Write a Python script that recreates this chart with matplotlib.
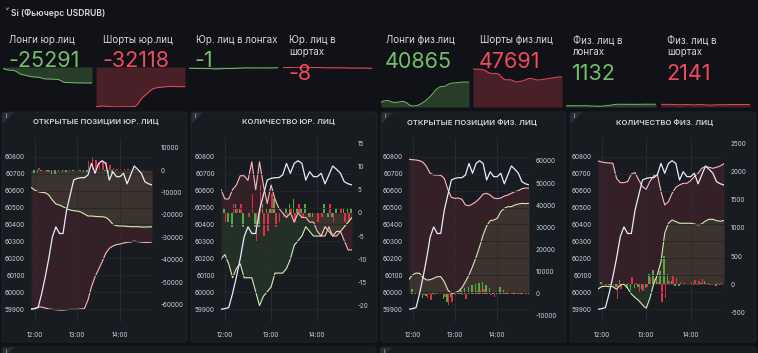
import numpy as np
import matplotlib
matplotlib.use("Agg")
import matplotlib.pyplot as plt
from matplotlib.patches import FancyBboxPatch, Polygon

plt.rcParams['font.family'] = ['Inter', 'DejaVu Sans']
plt.rcParams['axes.unicode_minus'] = False

W, H = 758, 353

# 5-minute points, minutes after 12:00 (11:55 ... 14:45)
minutes = list(range(-5, 170, 5))
hour_ticks = [0, 60, 120]
hour_labels = ["12:00", "13:00", "14:00"]

# Si futures price (left axis on every chart)
price = [59900, 59904, 59910, 59993, 60091, 60200, 60327, 60386, 60347, 60347,
         60485, 60574, 60662, 60672, 60676, 60676, 60692, 60760, 60702, 60760,
         60776, 60760, 60662, 60711, 60682, 60682, 60702, 60640, 60692, 60745,
         60725, 60702, 60652, 60640, 60633]

# open interest of legal entities
longs_yur = [-7720, -8910, -9650, -9950, -10100, -11140, -13380, -15160, -15610, -16350,
             -17250, -17840, -18140, -18290, -18740, -19630, -20520, -20520, -20670, -20820,
             -20820, -21120, -22310, -24250, -24840, -24990, -24990, -25140, -25290, -25290,
             -25290, -25440, -25440, -25440, -25291]
shorts_yur = [-62070, -61920, -61170, -61170, -61620, -62070, -62220, -62370, -62510, -62510,
              -62370, -62220, -62220, -62220, -62070, -61920, -58050, -52090, -47620, -44350,
              -40920, -37200, -34970, -33930, -33330, -33030, -32590, -32290, -32140, -31700,
              -31990, -32140, -32290, -32290, -32118]
longs_yur_chg = [0, -1200, -700, -300, -150, -1000, -2200, -1800, -450, -750,
                 -900, -600, -300, -150, -450, -900, -900, 0, -150, -150,
                 0, -300, -1200, -1900, -600, -150, 0, -150, -150, 0,
                 0, -150, 0, 0, 150]
shorts_yur_chg = [0, 150, 750, 0, -450, -450, -150, -150, -150, 0,
                  150, 150, 0, 0, 150, 150, 3900, 6000, 4500, 3300,
                  3400, 3700, 2200, 1000, 600, 300, 450, 300, 150, 450,
                  -300, -150, -150, 0, 150]

# number of legal entities
longs_yur_n = [-10, -9, -11, -14, -12, -11, -14, -14, -14, -17,
               -20, -18, -17, -16, -13, -13, -13, -12, -10, -7,
               -6, -5, -3, -4, -5, -5, -5, -3, -4, -5,
               -4, -4, -3, -2, -1]
shorts_yur_n = [5, 3, 3, 5, 6, 8, 8, 7, 11, 5,
                11, 6, 2, 6, 3, 1, 0, -1, 0, -2,
                0, -1, -1, -2, -2, -4, -5, -5, -3, -5,
                -5, -4, -6, -8, -8]
longs_yur_n_chg = [0, 1, -2, -3, 2, 1, -3, 0, 0, -3,
                   -3, 2, 1, 1, 3, 0, 0, 1, 2, 3,
                   1, 1, 2, -1, -1, 0, 0, 2, -1, -1,
                   1, 0, 1, 1, 1]
shorts_yur_n_chg = [0, -2, 0, 2, 1, 2, 0, -1, 4, -6,
                    6, -5, -4, 4, -3, -2, -1, -1, 1, -2,
                    2, -1, 0, -1, 0, -2, -1, 0, 2, -2,
                    0, 1, -2, -2, 0]

# open interest of individuals
longs_fiz = [6450, 8410, 9310, 9160, 7200, 6140, 6290, 6900, 7650, 7650,
             5390, 1620, 110, 410, 1010, 2670, 5390, 8410, 12180, 16400,
             21230, 26510, 30580, 33000, 33300, 34050, 37070, 38580, 39330, 39330,
             40090, 40540, 40840, 40690, 40865]
shorts_fiz = [60750, 60600, 60450, 60150, 59400, 57440, 54420, 53660, 53660, 53510,
              52160, 47180, 43560, 43100, 43250, 42650, 40090, 39780, 40540, 41600,
              43100, 45060, 45370, 44610, 43250, 42950, 43250, 44160, 44610, 45370,
              46120, 46570, 47480, 47780, 47691]
longs_fiz_chg = [0, 1950, 900, -150, -1950, -1050, 150, 600, 750, 0,
                 -2250, -3750, -1500, 300, 600, 1650, 2700, 3000, 3750, 4200,
                 4800, 5300, 4050, 2400, 300, 750, 3000, 1500, 750, 0,
                 750, 450, 300, -150, 150]
shorts_fiz_chg = [0, -150, -150, -300, -750, -2000, -3000, -750, 0, -150,
                  -1350, -5000, -3600, -450, 150, -600, -2550, -300, 750, 1050,
                  1500, 1950, 300, -750, -1350, -300, 300, 900, 450, 750,
                  750, 450, 900, 300, -100]

# number of individuals
longs_fiz_n = [-81, -40, -34, -40, -40, -87, -10, 2, -69, -170,
               -234, -288, -364, -423, -246, 8, 167, 403, 905, 1083,
               1142, 1112, 1083, 1083, 1083, 1083, 1071, 1053, 1071, 1124,
               1153, 1153, 1130, 1118, 1132]
shorts_fiz_n = [2187, 2169, 2157, 2152, 2146, 1880, 1803, 1803, 1821, 1957,
                1980, 1850, 1732, 1685, 1821, 1921, 1957, 1644, 1407, 1466,
                1614, 1720, 1762, 1791, 1791, 1839, 1910, 1968, 2057, 2087,
                2075, 2057, 2075, 2098, 2141]
longs_fiz_n_chg = [0, 40, 5, -5, 0, -45, 75, 10, -70, -100,
                   -65, -55, -75, -60, 175, 255, 160, 235, 500, 180,
                   60, -30, -30, 0, 0, 0, -10, -20, 20, 55,
                   30, 0, -25, -10, 15]
shorts_fiz_n_chg = [0, -20, -10, -5, -5, -265, -75, 0, 20, 135,
                    25, -130, -120, -45, 135, 100, 35, -315, -235, 60,
                    150, 105, 40, 30, 0, 50, 70, 60, 90, 30,
                    -10, -20, 20, 25, 45]

stat_titles = ["Лонги юр.лиц", "Шорты юр.лиц", "Юр. лиц в лонгах", "Юр. лиц в\nшортах",
               "Лонги физ.лиц", "Шорты физ.лиц", "Физ. лиц в\nлонгах", "Физ. лиц в\nшортах"]
stat_values = ["-25291", "-32118", "-1", "-8", "40865", "47691", "1132", "2141"]

chart_titles = ["ОТКРЫТЫЕ ПОЗИЦИИ ЮР. ЛИЦ", "КОЛИЧЕСТВО ЮР. ЛИЦ",
                "ОТКРЫТЫЕ ПОЗИЦИИ ФИЗ. ЛИЦ", "КОЛИЧЕСТВО ФИЗ. ЛИЦ"]

BG = "#111217"
PANEL = "#181b1f"
BORDER = "#22252b"
TEXT = "#d8d9da"
TICK = "#c7d0d9"
GREEN = "#73bf69"
RED = "#f2495c"
GREEN_BAR = "#56a64b"
RED_BAR = "#e02f44"
LIGHT_GREEN = "#d4ecb8"
LIGHT_RED = "#ffb8bd"
PRICE_C = "#e4ecfb"


def rect(x0, y0, x1, y1):
    return [x0 / W, 1 - y1 / H, (x1 - x0) / W, (y1 - y0) / H]


def panel_box(bg, x0, y0, x1, y1):
    bg.add_patch(FancyBboxPatch((x0, y0), x1 - x0, y1 - y0,
                                boxstyle="round,pad=0,rounding_size=3",
                                fc=PANEL, ec=BORDER, lw=0.6))
    bg.add_patch(Polygon([(x0 + 0.5, y0 + 0.5), (x0 + 12, y0 + 0.5), (x0 + 0.5, y0 + 12)],
                         closed=True, fc="#2a2d33", ec="none"))
    bg.text(x0 + 4, y0 + 4.5, "i", color=TICK, fontsize=4.5, ha="center", va="center")


def chart(fig, x0, x1, title_x, title, longs, shorts, d_longs, d_shorts,
          ylim_r, ticks_r, pad_r):
    ax = fig.add_axes(rect(x0, 138, x1, 322))
    ax.set_facecolor("none")
    mins = np.array(minutes)
    ax.fill_between(mins, longs, 0, color=GREEN, alpha=0.13, lw=0)
    ax.fill_between(mins, shorts, 0, color=RED, alpha=0.13, lw=0)
    w = 2.1
    ax.bar(mins - w / 2, d_longs, width=w, color=GREEN_BAR, lw=0, zorder=2)
    ax.bar(mins + w / 2, d_shorts, width=w, color=RED_BAR, lw=0, zorder=2)
    ax.plot(mins, longs, color=LIGHT_GREEN, lw=0.8, zorder=3)
    ax.plot(mins, shorts, color=LIGHT_RED, lw=0.8, zorder=3)
    ax.set_xlim(minutes[0], minutes[-1])
    ax.set_ylim(*ylim_r)
    ax.set_yticks(ticks_r)
    ax.set_xticks(hour_ticks)
    ax.set_xticklabels(hour_labels)
    ax.grid(axis="x", color="#2a2d33", lw=0.6)
    for s in ax.spines.values():
        s.set_visible(False)

    axp = ax.twinx()
    axp.plot(mins, price, color=PRICE_C, lw=0.9, zorder=4)
    axp.set_ylim(59825, 60910)
    axp.set_yticks(range(59900, 60801, 100))
    axp.grid(axis="y", color="#24272c", lw=0.6)
    for s in axp.spines.values():
        s.set_visible(False)

    # price on the left, positions/counts on the right
    ax.yaxis.tick_right()
    axp.yaxis.tick_left()
    ax.tick_params(axis="x", length=0, pad=7, labelsize=4.6, labelcolor=TICK)
    ax.tick_params(axis="y", which="both", left=False, labelleft=False,
                   right=False, labelright=True, length=0, pad=pad_r,
                   labelsize=4.6, labelcolor=TICK)
    axp.tick_params(axis="y", which="both", right=False, labelright=False,
                    left=False, labelleft=True, length=0, pad=4.5,
                    labelsize=4.6, labelcolor=TICK)

    fig.text(title_x / W, 1 - 122 / H, title, color=TEXT, fontsize=5.6,
             fontweight="semibold", ha="center", va="center")


def sparkline(fig, x0, x1, series, color, ylim, to_top):
    ax = fig.add_axes(rect(x0, 67, x1, 107))
    ax.set_facecolor("none")
    mins = np.array(minutes)
    base = ylim[1] if to_top else ylim[0]
    ax.fill_between(mins, series, base, color=color, alpha=0.25, lw=0)
    ax.plot(mins, series, color=color, lw=0.7)
    ax.set_xlim(minutes[0], minutes[-1])
    ax.set_ylim(*ylim)
    ax.axis("off")


def main():
    fig = plt.figure(figsize=(W / 100, H / 100), dpi=100, facecolor=BG)
    bg = fig.add_axes([0, 0, 1, 1])
    bg.set_xlim(0, W)
    bg.set_ylim(H, 0)
    bg.axis("off")
    bg.set_zorder(-1)

    bg.text(4, 13, "˅", color=TEXT, fontsize=7, ha="left", va="center",
            family=["DejaVu Sans"])
    bg.text(11, 13, "Si (Фьючерс USDRUB)", color=TEXT, fontsize=6.2,
            fontweight="semibold", ha="left", va="center")

    # stat row
    title_x = [9, 103, 196, 289, 386, 480, 573, 667]
    value_y = [67, 67, 67, 80, 67.5, 67.5, 80, 80]
    for i in range(8):
        lines = stat_titles[i].split("\n")
        for k, line in enumerate(lines):
            bg.text(title_x[i], 40 + 12 * k, line, color=TEXT, fontsize=7,
                    ha="left", va="center")
        col = GREEN if i % 2 == 0 else RED
        bg.text(title_x[i] - 1, value_y[i], stat_values[i], color=col, fontsize=15.5,
                ha="left", va="baseline", zorder=5)

    sparkline(fig, 3, 92, longs_yur, GREEN, (-54600, -6000), True)
    sparkline(fig, 96, 185, shorts_yur, RED, (-62600, -2800), True)
    sparkline(fig, 189, 278, longs_yur_n, GREEN, (-600, 10), True)
    sparkline(fig, 283, 372, shorts_yur_n, RED, (-600, 12), True)
    sparkline(fig, 381, 469, longs_fiz, GREEN, (-1600, 66300), False)
    sparkline(fig, 473, 562, shorts_fiz, RED, (-1000, 64000), False)
    sparkline(fig, 566, 656, longs_fiz_n, GREEN, (-1000, 30000), False)
    sparkline(fig, 661, 750, shorts_fiz_n, RED, (-500, 40000), False)

    # chart panels
    for x0, x1 in [(2, 187), (191, 377), (381, 566), (570, 756)]:
        panel_box(bg, x0, 112, x1, 342)
    for x0, x1 in [(2, 376), (380, 756)]:
        panel_box(bg, x0, 347, x1, 362)

    chart(fig, 31, 152, 96, chart_titles[0], longs_yur, shorts_yur,
          longs_yur_chg, shorts_yur_chg, (-67860, 14333),
          range(-60000, 10001, 10000), 6)
    chart(fig, 221, 352, 288, chart_titles[1], longs_yur_n, shorts_yur_n,
          longs_yur_n_chg, shorts_yur_n_chg, (-23.54, 16.14),
          range(-20, 16, 5), 4)
    chart(fig, 409, 529, 472, chart_titles[2], longs_fiz, shorts_fiz,
          longs_fiz_chg, shorts_fiz_chg, (-12853, 70407),
          range(-10000, 60001, 10000), 5)
    chart(fig, 598, 724, 665, chart_titles[3], longs_fiz_n, shorts_fiz_n,
          longs_fiz_n_chg, shorts_fiz_n_chg, (-667, 2594),
          range(-500, 2501, 500), 5)

    fig.savefig("out.png", dpi=100, facecolor=BG)


if __name__ == "__main__":
    main()
